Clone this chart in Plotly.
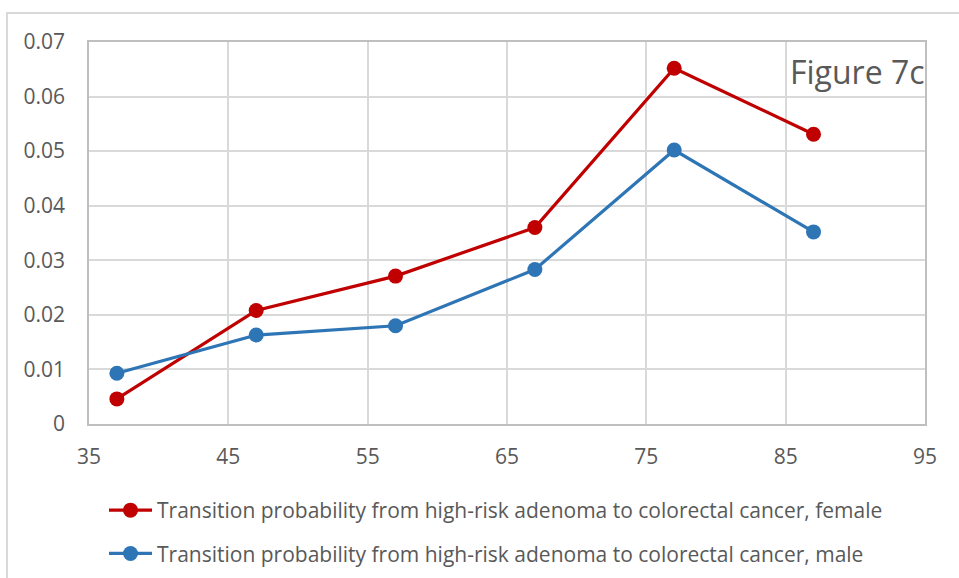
import plotly.graph_objects as go

# Age (years) at which each transition probability applies
ages = [37, 47, 57, 67, 77, 87]

# Annual transition probability, high-risk adenoma -> colorectal cancer
female_prob = [0.0046, 0.0208, 0.0271, 0.0360, 0.0652, 0.0531]
male_prob = [0.0093, 0.0163, 0.0180, 0.0283, 0.0502, 0.0352]

female_name = "Transition probability from high-risk adenoma to colorectal cancer, female"
male_name = "Transition probability from high-risk adenoma to colorectal cancer, male"

x_ticks = [35, 45, 55, 65, 75, 85, 95]
y_ticks = [0, 0.01, 0.02, 0.03, 0.04, 0.05, 0.06, 0.07]
y_tick_text = ["0", "0.01", "0.02", "0.03", "0.04", "0.05", "0.06", "0.07"]

FONT = "Open Sans"
TEXT_GREY = "#595959"
GRID_GREY = "#d9d9d9"

fig = go.Figure()
fig.add_trace(go.Scatter(
    x=ages, y=female_prob, name=female_name, mode="lines+markers",
    line=dict(color="#C00000", width=3.2),
    marker=dict(color="#C00000", size=15),
    legendgroup="f",
))
fig.add_trace(go.Scatter(
    x=ages, y=male_prob, name=male_name, mode="lines+markers",
    line=dict(color="#2E75B6", width=3.2),
    marker=dict(color="#2E75B6", size=15),
    legendgroup="m",
))

W, H = 959, 578
L, R, T, B = 89, 34, 42, 154
pw, ph = W - L - R, H - T - B

fig.update_layout(
    width=W, height=H,
    margin=dict(l=L, r=R, t=T, b=B, autoexpand=False),
    paper_bgcolor="white", plot_bgcolor="white",
    font=dict(family=FONT, color=TEXT_GREY, size=21),
    showlegend=True,
    legend=dict(
        x=(104 - L) / pw, y=(H - 490 - B) / ph, xanchor="left", yanchor="top",
        font=dict(family=FONT, size=21, color=TEXT_GREY),
        tracegroupgap=13, itemwidth=43,
        bgcolor="rgba(0,0,0,0)",
    ),
    xaxis=dict(
        range=[35, 95], tickvals=x_ticks, ticktext=[str(v) for v in x_ticks],
        showgrid=True, gridcolor=GRID_GREY, gridwidth=1.5,
        showline=True, linecolor="#bfbfbf", linewidth=1.5, mirror=True,
        zeroline=False, ticks="", ticklabelstandoff=13,
        tickfont=dict(family=FONT, size=21, color=TEXT_GREY),
    ),
    yaxis=dict(
        range=[0, 0.07], tickvals=y_ticks, ticktext=y_tick_text,
        showgrid=True, gridcolor=GRID_GREY, gridwidth=1.5,
        showline=True, linecolor="#bfbfbf", linewidth=1.5, mirror=True,
        zeroline=False, ticks="", ticklabelstandoff=18,
        tickfont=dict(family=FONT, size=21, color=TEXT_GREY),
    ),
    annotations=[dict(
        text="Figure 7c", xref="paper", yref="paper",
        x=(927 - L) / pw, y=(H - 71 - B) / ph,
        xanchor="right", yanchor="middle", showarrow=False,
        font=dict(family=FONT, size=32, color=TEXT_GREY),
    )],
    shapes=[dict(
        type="rect", xref="paper", yref="paper",
        x0=(7 - L) / pw, x1=(965 - L) / pw,
        y0=(H - 600 - B) / ph, y1=(H - 13 - B) / ph,
        line=dict(color=GRID_GREY, width=2), fillcolor="rgba(0,0,0,0)",
        layer="below",
    )],
)

fig.write_html("out.html")
